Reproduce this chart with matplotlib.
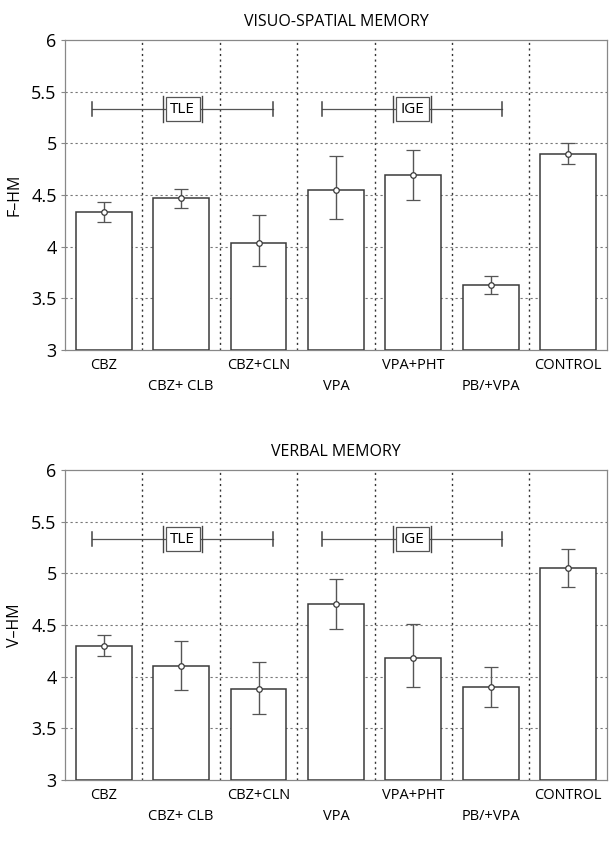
import matplotlib
matplotlib.use("Agg")
import matplotlib.pyplot as plt
import numpy as np

categories = ["CBZ", "CBZ+ CLB", "CBZ+CLN", "VPA", "VPA+PHT", "PB/+VPA", "CONTROL"]

vs_mean = [4.34, 4.47, 4.04, 4.55, 4.69, 3.63, 4.90]
vs_lo = [4.24, 4.37, 3.81, 4.27, 4.45, 3.54, 4.80]
vs_hi = [4.43, 4.56, 4.31, 4.88, 4.94, 3.72, 5.00]

vm_mean = [4.30, 4.10, 3.88, 4.70, 4.18, 3.90, 5.05]
vm_lo = [4.20, 3.87, 3.64, 4.46, 3.90, 3.71, 4.87]
vm_hi = [4.40, 4.35, 4.14, 4.95, 4.51, 4.09, 5.24]

groups = ["TLE", "IGE"]
group_start = [0.85, 3.82]
group_end = [3.19, 6.15]
group_level = 5.33

yticks = [3, 3.5, 4, 4.5, 5, 5.5, 6]
ytick_labels = ["3", "3.5", "4", "4.5", "5", "5.5", "6"]

plt.rcParams['font.family'] = ['Open Sans', 'DejaVu Sans']

fig = plt.figure(figsize=(6.13, 8.51), dpi=100)
ax1 = fig.add_axes([0.106, 0.5887, 0.884, 0.3643])
ax2 = fig.add_axes([0.106, 0.0834, 0.884, 0.3643])

dark = "#3a3a3a"
box_texts = []

def draw(ax, mean, lo, hi, title, ylabel):
    x = np.arange(1, len(categories) + 1)
    mean = np.array(mean)
    err = [mean - np.array(lo), np.array(hi) - mean]
    ax.bar(x, mean - 3, bottom=3, width=0.72, facecolor="white",
           edgecolor=dark, linewidth=1.1, zorder=3)
    ax.errorbar(x, mean, yerr=err, fmt="o", ms=4, mfc="white", mec=dark,
                mew=0.9, ecolor="#555555", elinewidth=1.0, capsize=5,
                capthick=1.0, zorder=4)
    ax.set_xlim(0.5, len(categories) + 0.5)
    ax.set_ylim(3, 6)
    ax.set_yticks(yticks)
    ax.set_yticklabels(ytick_labels, fontsize=13)
    for b in np.arange(1.5, len(categories), 1.0):
        ax.axvline(b, color="#333333", linestyle=(0, (1.5, 2.5)), linewidth=1.0, zorder=1)
    for yv in yticks[1:-1]:
        ax.axhline(yv, color="#777777", linestyle=(0, (2, 2.5)), linewidth=0.8, zorder=1)
    ax.set_xticks(x)
    ax.set_xticklabels([])
    for i, c in enumerate(categories):
        off = -11.5 if i % 2 == 0 else -26
        ax.annotate(c, xy=(x[i], 0), xycoords=("data", "axes fraction"),
                    xytext=(0, off), textcoords="offset points",
                    ha="center", va="center", fontsize=10.5)
    ax.tick_params(axis="x", length=0)
    ax.tick_params(axis="y", length=3, color="#888888", pad=3)
    for s in ax.spines.values():
        s.set_color("#888888")
        s.set_linewidth(0.9)
    ax.set_title(title, fontsize=11.5, pad=10)
    ax.set_ylabel(ylabel, fontsize=11.5, labelpad=6)
    for g, s, e in zip(groups, group_start, group_end):
        ax.plot([s, e], [group_level, group_level], color="#555555", lw=0.9, zorder=5)
        for xe in (s, e):
            ax.plot([xe, xe], [group_level - 0.07, group_level + 0.07],
                    color="#444444", lw=1.1, zorder=5)
        mid = (s + e) / 2
        t = ax.text(mid, group_level, g, ha="center", va="center", fontsize=11,
                    zorder=6,
                    bbox=dict(boxstyle="square,pad=0.3", fc="white", ec="#555555", lw=0.9))
        box_texts.append((ax, t))

draw(ax1, vs_mean, vs_lo, vs_hi, "VISUO-SPATIAL MEMORY", "F\u2013HM")
draw(ax2, vm_mean, vm_lo, vm_hi, "VERBAL MEMORY", "V\u2013HM")

# double side bars hugging the group label boxes
fig.canvas.draw()
r = fig.canvas.get_renderer()
for ax, t in box_texts:
    bb = t.get_bbox_patch().get_window_extent(r)
    inv = ax.transData.inverted()
    for px in (bb.x0 - 2.5, bb.x1 + 2.5):
        x0, y0 = inv.transform((px, bb.y0 - 1))
        x1, y1 = inv.transform((px, bb.y1 + 1))
        ax.plot([x0, x1], [y0, y1], color="#444444", lw=1.0, zorder=7)

fig.savefig("out.png", dpi=100, facecolor="white")
